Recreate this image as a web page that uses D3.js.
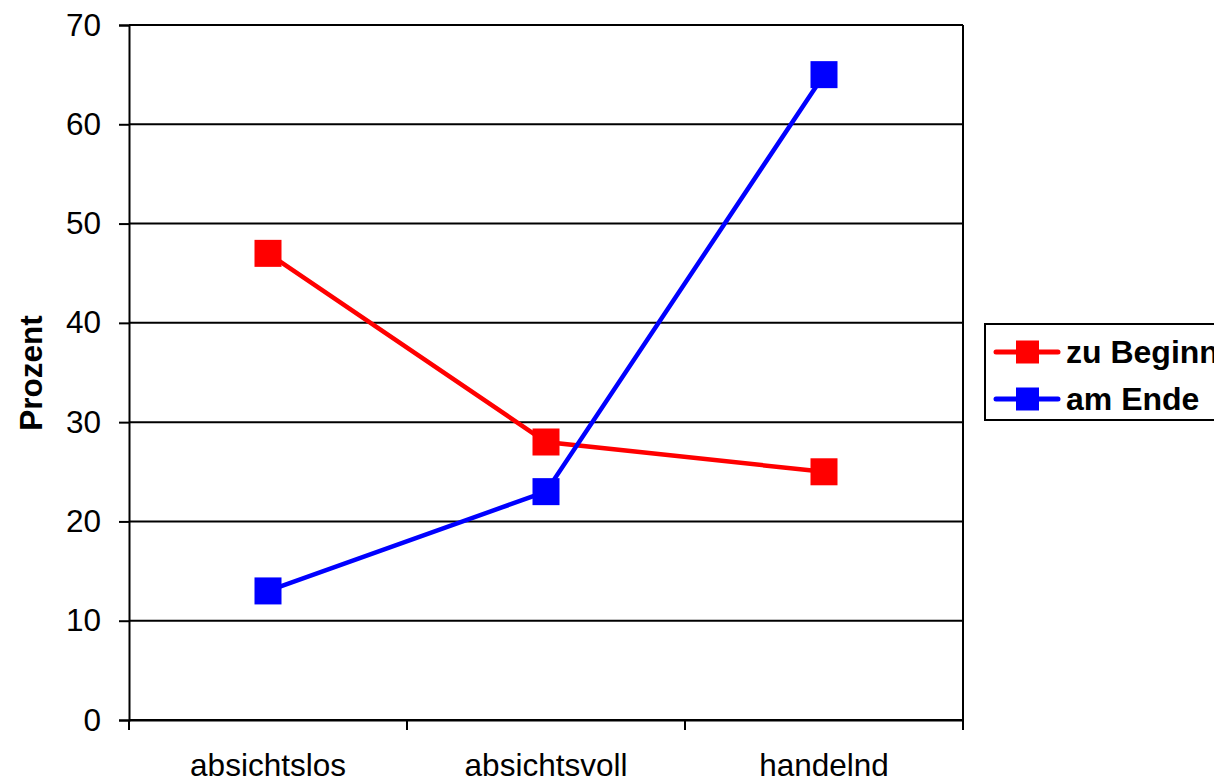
<!DOCTYPE html>
<html>
<head>
<meta charset="utf-8">
<script src="https://cdn.jsdelivr.net/npm/d3@7"></script>
<style>
  html, body { margin: 0; padding: 0; background: #fff; }
  svg { display: block; font-family: "Liberation Sans", Arial, sans-serif; }
</style>
</head>
<body>
<svg id="chart" width="1214" height="780"></svg>
<script>
// Stages of change, share of participants (percent)
const categories = ["absichtslos", "absichtsvoll", "handelnd"];
const seriesNames = ["zu Beginn", "am Ende"];
const seriesColors = ["#ff0000", "#0000ff"];
const valuesBeginn = [47, 28, 25];
const valuesEnde = [13, 23, 65];
const yTicks = [0, 10, 20, 30, 40, 50, 60, 70];

const series = [
  { name: seriesNames[0], color: seriesColors[0], values: valuesBeginn },
  { name: seriesNames[1], color: seriesColors[1], values: valuesEnde }
];

const svg = d3.select("#chart");
const plot = { left: 129, right: 963, top: 25, bottom: 720 };
const fontSize = 31.5;

const x = d3.scaleBand().domain(categories).range([plot.left, plot.right]).padding(0);
const y = d3.scaleLinear().domain([0, 70]).range([plot.bottom, plot.top]);

// horizontal gridlines
svg.append("g")
  .selectAll("line")
  .data(yTicks)
  .join("line")
  .attr("x1", plot.left).attr("x2", plot.right)
  .attr("y1", d => y(d)).attr("y2", d => y(d))
  .attr("stroke", "#000").attr("stroke-width", 2);

// right border of plot area
svg.append("line")
  .attr("x1", plot.right).attr("x2", plot.right)
  .attr("y1", plot.top).attr("y2", plot.bottom)
  .attr("stroke", "#000").attr("stroke-width", 2);

// y axis
const yAxis = svg.append("g")
  .attr("transform", `translate(${plot.left},0)`)
  .call(d3.axisLeft(y).tickValues(yTicks).tickSize(10).tickPadding(18).tickFormat(d3.format("d")));
yAxis.select(".domain").attr("stroke-width", 2);
yAxis.selectAll(".tick line").attr("stroke-width", 2);
yAxis.selectAll(".tick text")
  .attr("font-size", fontSize).attr("fill", "#000")
  .attr("font-family", "'Liberation Sans', Arial, sans-serif");

// x axis: ticks on category boundaries
const xAxis = svg.append("g")
  .attr("transform", `translate(0,${plot.bottom})`)
  .call(d3.axisBottom(x).tickSize(0).tickPadding(34));
xAxis.select(".domain").attr("stroke-width", 2);
xAxis.selectAll(".tick text")
  .attr("font-size", fontSize).attr("fill", "#000")
  .attr("font-family", "'Liberation Sans', Arial, sans-serif");

const boundaries = categories.map(c => x(c)).concat([x(categories[categories.length - 1]) + x.bandwidth()]);
svg.append("g")
  .selectAll("line")
  .data(boundaries)
  .join("line")
  .attr("x1", d => d).attr("x2", d => d)
  .attr("y1", plot.bottom).attr("y2", plot.bottom + 10)
  .attr("stroke", "#000").attr("stroke-width", 2);

// y axis title
svg.append("text")
  .attr("transform", `translate(42,373) rotate(-90)`)
  .attr("text-anchor", "middle")
  .attr("font-size", fontSize).attr("font-weight", "bold")
  .text("Prozent");

// series lines and markers
const cx = c => x(c) + x.bandwidth() / 2;
const line = d3.line().x((d, i) => cx(categories[i])).y(d => y(d));
const markerSize = 27;

series.forEach(s => {
  svg.append("path")
    .datum(s.values)
    .attr("d", line)
    .attr("fill", "none")
    .attr("stroke", s.color)
    .attr("stroke-width", 4.5);
  svg.append("g")
    .selectAll("rect")
    .data(s.values)
    .join("rect")
    .attr("x", (d, i) => cx(categories[i]) - markerSize / 2)
    .attr("y", d => y(d) - markerSize / 2)
    .attr("width", markerSize).attr("height", markerSize)
    .attr("fill", s.color);
});

// legend
const legend = svg.append("g").attr("transform", "translate(985,324)");
legend.append("rect")
  .attr("x", 0).attr("y", 0).attr("width", 260).attr("height", 96)
  .attr("fill", "#fff").attr("stroke", "#000").attr("stroke-width", 2);
const rowY = [28, 75];
series.forEach((s, i) => {
  const g = legend.append("g").attr("transform", `translate(0,${rowY[i]})`);
  g.append("line")
    .attr("x1", 11).attr("x2", 73).attr("y1", 0).attr("y2", 0)
    .attr("stroke", s.color).attr("stroke-width", 5).attr("stroke-linecap", "round");
  g.append("rect")
    .attr("x", 31).attr("y", -11.5).attr("width", 23).attr("height", 23)
    .attr("fill", s.color);
  g.append("text")
    .attr("x", 81).attr("y", 0).attr("dy", "0.35em")
    .attr("font-size", 32).attr("font-weight", "bold")
    .text(s.name);
});
</script>
</body>
</html>
